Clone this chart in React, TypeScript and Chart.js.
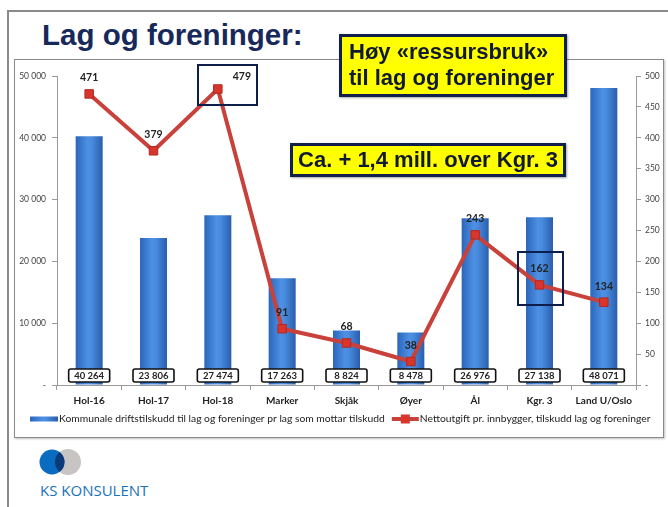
import React, { useEffect, useRef } from "react";
import { Chart, registerables } from "chart.js";

Chart.register(...registerables);

const categories = ["Hol-16", "Hol-17", "Hol-18", "Marker", "Skjåk", "Øyer", "Ål", "Kgr. 3", "Land U/Oslo"];
const driftstilskudd = [40264, 23806, 27474, 17263, 8824, 8478, 26976, 27138, 48071];
const nettoutgift = [471, 379, 479, 91, 68, 38, 243, 162, 134];
const leftAxis = { min: 0, max: 50000, step: 10000 };
const rightAxis = { min: 0, max: 500, step: 50 };
const barLegend = "Kommunale driftstilskudd til lag og foreninger pr lag som mottar tilskudd";
const lineLegend = "Nettoutgift pr. innbygger, tilskudd lag og foreninger";

const fmt = (v: number) => (v === 0 ? "-" : String(v).replace(/\B(?=(\d{3})+(?!\d))/g, " "));

const LINE_COLOR = "#c9413b";
const POINT_COLOR = "#d8352c";
const FONT = "Lato, 'Open Sans', sans-serif";

function barGradient(ctx: CanvasRenderingContext2D, cx: number, half: number) {
  if (!isFinite(cx)) return "#3d7fd0";
  const g = ctx.createLinearGradient(cx - half, 0, cx + half, 0);
  g.addColorStop(0, "#2a64b8");
  g.addColorStop(0.45, "#4d90e4");
  g.addColorStop(0.6, "#478ade");
  g.addColorStop(1, "#285ca9");
  return g;
}

const overlayPlugin = {
  id: "overlayLabels",
  afterDatasetsDraw(chart: any) {
    const { ctx } = chart;
    const barMeta = chart.getDatasetMeta(0);
    const lineMeta = chart.getDatasetMeta(1);
    const bottom = chart.scales.y.bottom;
    ctx.save();
    ctx.font = `bold 9.5px ${FONT}`;
    ctx.textAlign = "center";
    ctx.textBaseline = "middle";
    barMeta.data.forEach((el: any, i: number) => {
      const w = 41, h = 13;
      const x = el.x - w / 2;
      const y = bottom - 16;
      ctx.beginPath();
      if ((ctx as any).roundRect) (ctx as any).roundRect(x, y, w, h, 2);
      else ctx.rect(x, y, w, h);
      ctx.fillStyle = "#ffffff";
      ctx.fill();
      ctx.lineWidth = 1.6;
      ctx.strokeStyle = "#111111";
      ctx.stroke();
      ctx.fillStyle = "#222222";
      ctx.fillText(fmt(driftstilskudd[i]), el.x, y + h / 2 + 0.5);
    });
    ctx.font = `bold 10.5px ${FONT}`;
    ctx.fillStyle = "#222222";
    lineMeta.data.forEach((el: any, i: number) => {
      // Hol-18 label sits to the right of its point in the original
      const dx = i === 2 ? 24 : 0;
      const dy = i === 2 ? -12 : -16;
      ctx.fillText(String(nettoutgift[i]), el.x + dx, el.y + dy);
    });
    ctx.restore();
  },
  afterDraw(chart: any) {
    const { ctx } = chart;
    ctx.save();
    const y = 360;
    ctx.font = `10.3px ${FONT}`;
    ctx.textBaseline = "middle";
    ctx.textAlign = "left";
    ctx.fillStyle = barGradient(ctx, 30, 14);
    ctx.fillRect(16, y - 2.5, 28, 5);
    ctx.fillStyle = "#222222";
    ctx.fillText(barLegend, 45, y);
    const x2 = 45 + ctx.measureText(barLegend).width + 7;
    ctx.strokeStyle = LINE_COLOR;
    ctx.lineWidth = 4;
    ctx.beginPath();
    ctx.moveTo(x2, y);
    ctx.lineTo(x2 + 27, y);
    ctx.stroke();
    ctx.fillStyle = POINT_COLOR;
    ctx.fillRect(x2 + 13.5 - 4.5, y - 4.5, 9, 9);
    ctx.fillStyle = "#222222";
    ctx.fillText(lineLegend, x2 + 28, y);
    ctx.restore();
  },
};

function ChartCanvas() {
  const ref = useRef<HTMLCanvasElement | null>(null);
  useEffect(() => {
    if (!ref.current) return;
    const chart = new Chart(ref.current, {
      type: "bar",
      data: {
        labels: categories,
        datasets: [
          {
            type: "bar",
            label: barLegend,
            data: driftstilskudd,
            yAxisID: "y",
            order: 2,
            categoryPercentage: 1,
            barPercentage: 0.42,
            borderWidth: 0,
            backgroundColor: (c: any) => {
              const chart = c.chart;
              const xs = chart.scales && chart.scales.x;
              if (!xs || c.dataIndex === undefined) return "#3d7fd0";
              const cx = xs.getPixelForValue(c.dataIndex);
              return barGradient(chart.ctx, cx, 14);
            },
          } as any,
          {
            type: "line",
            label: lineLegend,
            data: nettoutgift,
            yAxisID: "y1",
            order: 1,
            borderColor: LINE_COLOR,
            borderWidth: 4,
            tension: 0,
            pointStyle: "rect",
            pointRadius: 6,
            pointBackgroundColor: POINT_COLOR,
            pointBorderColor: "#b02a22",
            pointBorderWidth: 1,
          } as any,
        ],
      },
      options: {
        animation: false,
        responsive: false,
        maintainAspectRatio: false,
        layout: { padding: { top: 17, left: 0, right: 0, bottom: 0 } },
        plugins: { legend: { display: false }, tooltip: { enabled: false } },
        scales: {
          x: {
            offset: true,
            grid: { display: true, drawOnChartArea: false, offset: true, tickLength: 5, color: "#9a9a9a" },
            border: { color: "#9a9a9a" },
            ticks: { font: { family: FONT, size: 10, weight: "bold" }, color: "#222", padding: 5, maxRotation: 0, autoSkip: false },
            afterFit: (s: any) => { s.height = 53; },
          },
          y: {
            position: "left",
            min: leftAxis.min,
            max: leftAxis.max,
            ticks: { stepSize: leftAxis.step, callback: (v: any) => fmt(Number(v)), font: { family: FONT, size: 8.5 }, color: "#444", padding: 6 },
            grid: { drawOnChartArea: false, tickLength: 5, color: "#9a9a9a" },
            border: { color: "#9a9a9a" },
            afterFit: (s: any) => { s.width = 43; },
          },
          y1: {
            position: "right",
            min: rightAxis.min,
            max: rightAxis.max,
            ticks: { stepSize: rightAxis.step, callback: (v: any) => fmt(Number(v)), font: { family: FONT, size: 8.5 }, color: "#444", padding: 4 },
            grid: { drawOnChartArea: false, tickLength: 5, color: "#9a9a9a" },
            border: { color: "#9a9a9a" },
            afterFit: (s: any) => { s.width = 28; },
          },
        },
      } as any,
      plugins: [overlayPlugin],
    });
    return () => chart.destroy();
  }, []);
  return (
    <canvas
      ref={ref}
      width={650}
      height={379}
      style={{ position: "absolute", left: 14, top: 59, width: 650, height: 379 }}
    />
  );
}

const yellowBox: React.CSSProperties = {
  position: "absolute",
  background: "#ffff00",
  border: "3px solid #10204a",
  boxSizing: "border-box",
  fontFamily: "'Liberation Sans', Arial, sans-serif",
  fontWeight: "bold",
  fontSize: 22,
  color: "#111a33",
  boxShadow: "1px 1px 2px rgba(0,0,0,0.35)",
};

export default function App() {
  return (
    <div style={{ position: "absolute", left: 0, top: 0, width: 668, height: 507, background: "#fff", overflow: "hidden" }}>
      <div style={{ position: "absolute", left: 7, top: 10, width: 661, height: 1.5, background: "#8a8a8a" }} />
      <div style={{ position: "absolute", left: 7, top: 10, width: 1.5, height: 497, background: "#8a8a8a" }} />
      <div style={{ position: "absolute", left: 14, top: 59, width: 650, height: 379, border: "1px solid #8a8a8a", boxSizing: "border-box", boxShadow: "1px 1px 2px rgba(0,0,0,0.25)" }} />
      <ChartCanvas />
      <div style={{ position: "absolute", left: 42, top: 17, fontFamily: "'Liberation Sans', Arial, sans-serif", fontWeight: "bold", fontSize: 29.5, color: "#17295a", whiteSpace: "nowrap", lineHeight: "36px" }}>
        Lag og foreninger:
      </div>
      <div style={{ ...yellowBox, left: 339, top: 34, width: 228, height: 63, padding: "2px 0 0 7px", lineHeight: "26px", whiteSpace: "nowrap" }}>
        Høy «ressursbruk»
        <br />
        til lag og foreninger
      </div>
      <div style={{ ...yellowBox, left: 290, top: 143, width: 276, height: 34, lineHeight: "28px", textAlign: "center", whiteSpace: "nowrap" }}>
        Ca. + 1,4 mill. over Kgr. 3
      </div>
      <div style={{ position: "absolute", left: 197, top: 64, width: 61, height: 42, border: "2.5px solid #0d1e4d", boxSizing: "border-box" }} />
      <div style={{ position: "absolute", left: 517, top: 251, width: 47, height: 55, border: "2.5px solid #0d1e4d", boxSizing: "border-box" }} />
      <svg style={{ position: "absolute", left: 36, top: 447 }} width={50} height={30}>
        <defs>
          <clipPath id="blueClip">
            <circle cx={16} cy={15} r={12.5} />
          </clipPath>
        </defs>
        <circle cx={32} cy={15} r={13} fill="#c8c4c4" />
        <circle cx={16} cy={15} r={12.5} fill="#0a6cc0" />
        <circle cx={32} cy={15} r={13} fill="#0c3a78" clipPath="url(#blueClip)" />
      </svg>
      <div style={{ position: "absolute", left: 40, top: 480, fontFamily: "'Open Sans', sans-serif", fontSize: 15, color: "#1a72bb", whiteSpace: "nowrap", lineHeight: "20px" }}>
        KS KONSULENT
      </div>
    </div>
  );
}
